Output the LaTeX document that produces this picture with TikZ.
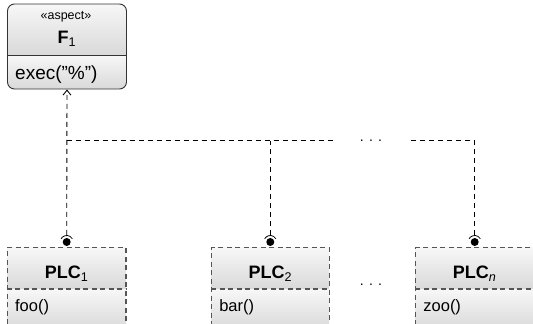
\documentclass[tikz,border=0pt]{standalone}
\usepackage{fontspec}
\setmainfont{Liberation Sans}
\usetikzlibrary{arrows.meta}
\definecolor{boxtop}{HTML}{F7F7F7}
\definecolor{boxbot}{HTML}{D9D9D9}
\definecolor{edge}{HTML}{333333}
\definecolor{dashedge}{HTML}{555555}
\tikzset{
  comp/.style={top color=boxtop, bottom color=boxbot, draw=none},
  dep/.style={draw=black, line width=0.9pt, dash pattern=on 5pt off 4pt},
  ball/.style={circle, fill=black, inner sep=0pt, minimum size=8pt},
  boxline/.style={draw=dashedge, line width=1.1pt, dash pattern=on 5pt off 3.5pt},
  title/.style={font=\fontsize{18}{21}\selectfont, inner sep=0pt},
  member/.style={font=\fontsize{16.5}{19}\selectfont, inner sep=0pt, anchor=west},
  dots/.style={font=\fontsize{14}{16}\selectfont, inner sep=0pt}
}
\begin{document}
\begin{tikzpicture}[x=1pt,y=-1pt]
\useasboundingbox (0,0) rectangle (533,324);
\clip (0,0) rectangle (533,324);
% F1 aspect box
\begin{scope}
  \clip[rounded corners=7pt] (7.5,4) rectangle (126.5,89);
  \shade[comp] (7.5,4) rectangle (126.5,55);
  \shade[comp] (7.5,55) rectangle (126.5,89);
\end{scope}
\node[draw=edge, line width=0.9pt, rounded corners=7pt, minimum width=119pt, minimum height=85pt, inner sep=0pt] (F1) at (67,46.5) {};
\draw[edge, line width=0.9pt] (F1.west |- 0,55) -- (F1.east |- 0,55);
\node[font=\fontsize{12.5}{14}\selectfont, inner sep=0pt] (st) at (66,17) {«aspect»};
\node[title] (F1name) at (67,39) {\textbf{F}\textsubscript{1}};
\node[member, font=\fontsize{19}{22}\selectfont] (exec) at (15,74.5) {exec("\%")};

% PLC boxes
\foreach \nm/\cx/\w/\lbl/\mem in {P1/66.7/118.5/{\textbf{PLC}\textsubscript{1}}/foo(), P2/270.3/117.5/{\textbf{PLC}\textsubscript{2}}/bar(), Pn/474.7/118/{\textbf{PLC}\textsubscript{\itshape n}}/zoo()}{
  \shade[comp] (\cx-\w/2,247.5) rectangle (\cx+\w/2,289);
  \shade[comp] (\cx-\w/2,289) rectangle (\cx+\w/2,330);
  \node[boxline, minimum width=\w pt, minimum height=82.5pt, inner sep=0pt] (\nm) at (\cx,288.75) {};
  \draw[boxline] (\nm.west |- 0,289) -- (\nm.east |- 0,289);
  \node[title] (\nm name) at (\cx,274) {\lbl};
  \node[member] (\nm mem) at (\cx-\w/2+7.5,307) {\mem};
  \node[ball] (\nm ball) at (\cx,242) {};
  \draw[black, line width=0.8pt] (\cx,242) ++(150:6.5pt) arc[start angle=150, end angle=30, radius=6.5pt];
}

% connectors
\coordinate (jL) at (66.7,140.5);
\coordinate (jR) at (333,140.5);
\coordinate (jn) at (411,140.5);
\node[dots] (hdots) at (371,140.5) {. . .};
\node[dots] (vdots) at (371,284.5) {. . .};
\draw[dep, -{Straight Barb[length=5pt,width=8pt,line width=0.9pt]}] (P1ball.north) ++(0,-3) -- (F1.south);
\draw[dep] (jL) -- (jR);
\draw[dep] ([yshift=3pt]P2ball.north) -- (P2ball.north |- jL);
\draw[dep] ([yshift=3pt]Pnball.north) |- (jn);
\end{tikzpicture}
\end{document}
